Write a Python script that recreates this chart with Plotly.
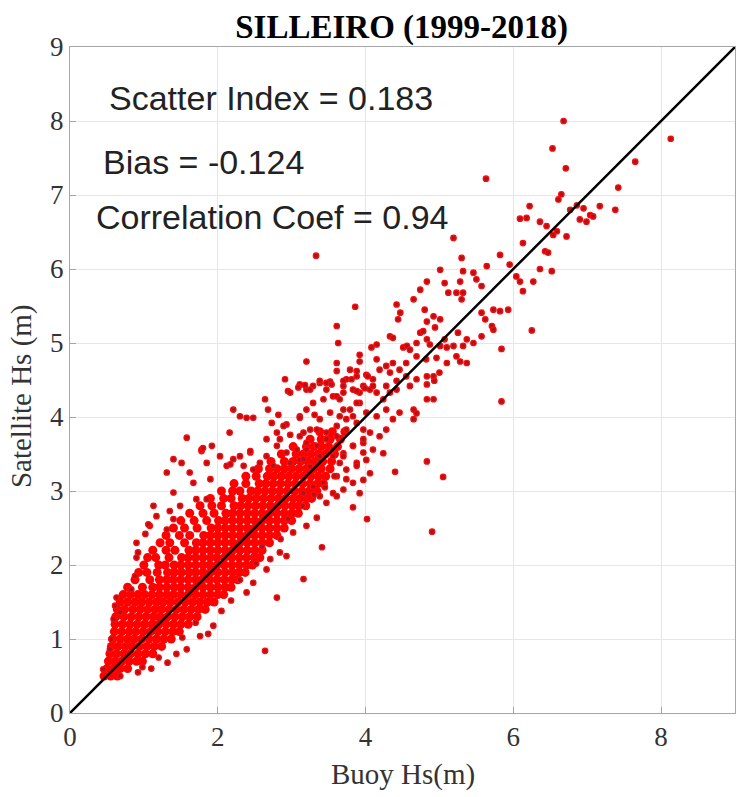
import plotly.graph_objects as go

# ---- dense core, read row by row (satellite Hs level -> buoy Hs values) ----
core_sat = [0.5, 0.6, 0.7, 0.8, 0.9, 1.0, 1.1, 1.2, 1.3, 1.4, 1.5, 1.6, 1.7, 1.8, 1.9,
            2.0, 2.1, 2.2, 2.3, 2.4, 2.5, 2.6, 2.7, 2.8, 2.9, 3.0, 3.1, 3.2, 3.3, 3.4,
            3.5, 3.6, 3.7, 3.8]
core_buoy = [
    [0.46, 0.55, 0.64],
    [0.50, 0.59, 0.68, 0.78],
    [0.52, 0.61, 0.70, 0.80, 0.90, 0.98],
    [0.54, 0.63, 0.73, 0.82, 0.92, 1.02, 1.12],
    [0.56, 0.65, 0.75, 0.84, 0.94, 1.04, 1.14, 1.24],
    [0.58, 0.68, 0.78, 0.87, 0.97, 1.07, 1.17, 1.27, 1.37],
    [0.60, 0.70, 0.80, 0.89, 0.99, 1.09, 1.19, 1.29, 1.39, 1.48],
    [0.61, 0.71, 0.81, 0.91, 1.01, 1.11, 1.20, 1.30, 1.40, 1.50, 1.60],
    [0.62, 0.73, 0.83, 0.93, 1.03, 1.13, 1.22, 1.32, 1.42, 1.52, 1.62, 1.72],
    [0.64, 0.74, 0.85, 0.95, 1.05, 1.15, 1.24, 1.34, 1.44, 1.54, 1.64, 1.74, 1.83],
    [0.68, 0.78, 0.88, 0.97, 1.07, 1.17, 1.26, 1.36, 1.46, 1.56, 1.66, 1.76, 1.86, 1.95],
    [0.72, 0.82, 0.92, 1.01, 1.11, 1.21, 1.31, 1.40, 1.50, 1.60, 1.70, 1.80, 1.90, 2.00, 2.08],
    [0.78, 0.98, 1.12, 1.21, 1.31, 1.41, 1.50, 1.60, 1.70, 1.80, 1.90, 2.00, 2.10, 2.18],
    [0.88, 1.08, 1.21, 1.31, 1.40, 1.50, 1.60, 1.70, 1.79, 1.89, 1.99, 2.09, 2.19, 2.27],
    [0.93, 1.04, 1.18, 1.32, 1.41, 1.51, 1.61, 1.70, 1.80, 1.90, 2.00, 2.10, 2.20, 2.29, 2.37],
    [1.00, 1.20, 1.29, 1.41, 1.50, 1.60, 1.70, 1.80, 1.89, 1.99, 2.09, 2.19, 2.29, 2.39, 2.47],
    [1.05, 1.16, 1.34, 1.51, 1.60, 1.70, 1.80, 1.90, 1.99, 2.09, 2.19, 2.29, 2.39, 2.49, 2.57],
    [1.12, 1.30, 1.42, 1.61, 1.70, 1.80, 1.90, 2.00, 2.10, 2.20, 2.30, 2.40, 2.50, 2.60],
    [1.22, 1.35, 1.55, 1.71, 1.80, 1.90, 2.00, 2.10, 2.20, 2.30, 2.40, 2.50, 2.60, 2.70],
    [1.30, 1.48, 1.62, 1.81, 1.90, 2.00, 2.10, 2.20, 2.30, 2.40, 2.50, 2.60, 2.70, 2.80],
    [1.40, 1.55, 1.72, 1.91, 2.00, 2.10, 2.20, 2.30, 2.40, 2.50, 2.60, 2.70, 2.80, 2.90],
    [1.50, 1.68, 1.85, 2.01, 2.10, 2.20, 2.30, 2.40, 2.50, 2.60, 2.70, 2.80, 2.90, 3.00],
    [1.62, 1.80, 1.95, 2.11, 2.20, 2.30, 2.40, 2.50, 2.60, 2.70, 2.80, 2.90, 3.00, 3.09],
    [1.76, 1.92, 2.05, 2.22, 2.31, 2.41, 2.51, 2.61, 2.71, 2.81, 2.91, 3.01, 3.10, 3.19],
    [1.90, 2.08, 2.18, 2.33, 2.42, 2.52, 2.62, 2.72, 2.82, 2.92, 3.02, 3.11, 3.20, 3.27],
    [2.05, 2.20, 2.30, 2.45, 2.54, 2.64, 2.74, 2.84, 2.94, 3.04, 3.14, 3.24, 3.34],
    [2.22, 2.38, 2.56, 2.65, 2.75, 2.85, 2.95, 3.05, 3.15, 3.25, 3.35, 3.43],
    [2.38, 2.52, 2.67, 2.76, 2.86, 2.96, 3.06, 3.16, 3.26, 3.36, 3.46],
    [2.55, 2.70, 2.80, 2.90, 3.00, 3.10, 3.20, 3.30, 3.40, 3.52],
    [2.72, 2.90, 3.02, 3.12, 3.22, 3.32, 3.42, 3.54],
    [2.86, 3.06, 3.16, 3.26, 3.36, 3.46, 3.58],
    [3.02, 3.20, 3.30, 3.40, 3.50, 3.62],
    [3.25, 3.40, 3.52, 3.66],
    [3.38, 3.55, 3.72],
]

# ---- individually readable points (buoy Hs, satellite Hs) ----
upper_pts = [
    (6.68, 8.00), (8.13, 7.76), (6.53, 7.63), (6.71, 7.36), (7.65, 7.45), (7.42, 7.10), (7.38, 6.80),
    (5.63, 7.22), (6.65, 7.01), (6.61, 6.94), (6.22, 6.85), (6.09, 6.68), (6.18, 6.69), (6.36, 6.64),
    (6.45, 6.58), (6.77, 6.80), (6.86, 6.86), (6.95, 6.82), (7.04, 6.73), (7.17, 6.85), (6.99, 6.64),
    (6.90, 6.67), (7.08, 6.71), (6.54, 6.46), (6.72, 6.44), (6.59, 6.51), (6.43, 6.24), (6.47, 6.22),
    (6.13, 6.35), (5.82, 6.19), (5.95, 6.06), (6.04, 5.90), (6.09, 5.83), (6.36, 6.00), (6.52, 5.97),
    (6.27, 5.83), (6.13, 5.70), (5.19, 6.42), (5.30, 6.15), (5.64, 6.04), (3.33, 6.18), (5.01, 5.99),
    (5.32, 5.97), (5.28, 5.83), (5.46, 5.95), (5.50, 5.86), (5.57, 5.77), (4.83, 5.83), (4.74, 5.72),
    (4.65, 5.59), (5.07, 5.81), (5.12, 5.68), (5.23, 5.68), (5.30, 5.59), (5.32, 5.68), (4.42, 5.52),
    (4.47, 5.41), (4.44, 5.32), (3.86, 5.49), (4.80, 5.45), (4.92, 5.36), (5.01, 5.32), (4.83, 5.29),
    (4.94, 5.21), (5.57, 5.41), (5.73, 5.45), (5.82, 5.43), (5.93, 5.45), (5.62, 5.32), (5.71, 5.23),
    (5.73, 5.18), (6.25, 5.17), (5.57, 5.09), (5.46, 5.00), (5.37, 5.05), (5.32, 4.96), (5.25, 5.14),
    (5.19, 4.96), (5.84, 4.92), (5.07, 5.05), (5.01, 4.96), (5.10, 4.94), (3.61, 5.23), (3.63, 5.00),
    (4.33, 5.09), (4.37, 5.07), (4.15, 4.98), (4.08, 4.94), (4.74, 5.14), (4.78, 5.16), (4.83, 5.05),
    (4.87, 4.98), (4.69, 5.00), (4.51, 4.94), (4.56, 4.96), (4.60, 4.91), (3.92, 4.84), (3.20, 4.75),
    (4.96, 4.80), (5.23, 4.82), (5.28, 4.75), (5.37, 4.73), (5.10, 4.73), (5.84, 4.21), (4.83, 4.44),
    (4.92, 4.55), (4.83, 4.55), (4.83, 4.24), (4.92, 4.24), (4.65, 4.10), (4.69, 4.05), (4.65, 3.97),
    (4.83, 3.40), (5.05, 3.19), (4.40, 3.26),
]
mid_pts = [
    (3.11, 4.44), (3.20, 4.37), (3.29, 4.42), (3.38, 4.46), (3.52, 4.48), (3.61, 4.62), (3.74, 4.51),
    (3.88, 4.55), (4.01, 4.57), (4.10, 4.51), (4.19, 4.64), (4.28, 4.69), (4.37, 4.73), (4.46, 4.64),
    (4.55, 4.55), (4.60, 4.42), (4.42, 4.37), (4.33, 4.33), (4.24, 4.24), (4.15, 4.33), (4.06, 4.37),
    (3.97, 4.42), (3.83, 4.37), (3.70, 4.33), (3.56, 4.28), (3.43, 4.24), (3.29, 4.19), (3.20, 4.10),
    (3.11, 4.01), (3.16, 3.79), (3.25, 3.83), (3.38, 3.97), (3.52, 4.06), (3.65, 4.01), (3.79, 4.10),
    (3.92, 4.19), (4.01, 4.06), (4.15, 4.01), (4.28, 4.10), (4.37, 3.97), (4.46, 4.06), (4.28, 3.83),
    (4.19, 3.74), (4.06, 3.79), (3.97, 3.83), (3.88, 3.92), (3.74, 3.83), (3.61, 3.74), (3.47, 3.70),
    (3.34, 3.61), (3.20, 3.56), (3.11, 3.42), (3.25, 3.33), (3.38, 3.42), (3.56, 3.47), (3.70, 3.51),
    (3.83, 3.61), (3.97, 3.65), (4.10, 3.56), (4.24, 3.51), (4.01, 3.42), (3.88, 3.38), (3.74, 3.29),
    (3.61, 3.20), (3.43, 3.11), (3.29, 3.06), (3.16, 2.97), (3.38, 2.93), (3.56, 2.97), (3.70, 3.02),
    (3.83, 3.11), (3.97, 3.15), (3.92, 2.97), (4.06, 3.24), (4.15, 4.78), (3.92, 4.75), (3.61, 4.73),
    (3.79, 4.64), (4.03, 4.55), (3.70, 4.49), (4.10, 4.42), (4.28, 4.42), (4.42, 4.49), (4.69, 4.51),
    (4.93, 4.49), (5.00, 4.60), (4.82, 4.78), (4.69, 4.82), (4.55, 4.73), (4.33, 4.60), (3.61, 4.28),
    (3.92, 4.33), (3.25, 4.37),
]
midleft_pts = [
    (3.88, 4.62), (2.91, 4.51), (3.38, 4.49), (3.54, 4.44), (3.81, 4.51), (2.95, 4.35), (3.09, 4.40),
    (3.18, 4.43), (3.47, 4.37), (3.88, 4.35), (3.99, 4.39), (2.64, 4.24), (2.68, 4.10), (2.21, 4.10),
    (2.30, 4.01), (2.39, 3.99), (2.48, 3.99), (2.82, 4.03), (3.11, 3.99), (3.31, 4.03), (2.73, 3.92),
    (2.93, 3.90), (2.16, 3.79), (1.92, 3.61), (1.78, 3.54), (2.98, 3.76), (2.84, 3.70), (3.11, 3.74),
    (3.34, 3.83), (3.47, 3.79), (3.61, 3.88), (3.74, 3.97), (3.83, 4.01), (3.70, 4.10), (3.88, 4.19),
    (3.65, 4.24), (2.03, 3.47), (2.21, 3.43), (2.44, 3.52), (2.66, 3.47), (2.80, 3.61), (2.93, 3.52),
    (3.07, 3.56), (3.20, 3.65), (3.34, 3.61), (3.47, 3.70), (3.56, 3.56), (3.70, 3.47), (3.83, 3.61),
    (3.97, 3.70), (3.97, 3.52), (1.85, 3.38), (2.12, 3.34), (2.35, 3.34), (2.57, 3.38), (2.75, 3.34),
    (2.98, 3.38), (3.16, 3.43), (3.38, 3.47), (3.65, 3.38), (3.88, 3.34),
]
left_pts = [
    (0.90, 2.30), (0.90, 2.10), (0.88, 1.85), (1.13, 2.80), (1.31, 3.25), (1.40, 3.43), (1.58, 3.72),
    (1.78, 3.56), (2.44, 3.54), (1.51, 3.38), (1.62, 3.25), (1.40, 2.98), (1.17, 2.66), (1.08, 2.53),
    (1.02, 2.42), (1.31, 2.48), (1.40, 2.62), (1.49, 2.80), (1.71, 2.89), (1.85, 2.89), (1.90, 3.16),
    (1.67, 3.11), (2.17, 3.36), (2.30, 3.47), (2.48, 3.29), (2.66, 3.70), (2.80, 3.79), (2.89, 3.88),
    (1.80, 3.58), (1.35, 2.73), (1.06, 2.55), (0.92, 2.17), (0.83, 1.67), (0.63, 1.56), (0.61, 1.45),
    (0.68, 1.36), (0.59, 1.27), (0.56, 1.00), (0.54, 0.86), (0.45, 0.59), (0.68, 0.50), (0.92, 0.55),
    (2.98, 4.33), (3.47, 4.46), (3.70, 4.42),
]
right_pts = [
    (2.64, 0.84), (2.80, 1.56), (3.16, 1.81), (3.41, 2.24), (3.83, 2.78), (1.44, 0.80), (1.58, 0.86),
    (1.76, 1.04), (1.87, 1.07), (1.94, 1.18), (2.39, 1.63), (2.48, 1.76), (2.66, 1.94), (2.93, 2.12),
    (3.02, 2.44), (3.20, 2.53), (3.34, 2.64), (3.47, 2.84), (3.61, 2.93), (3.74, 3.16), (2.71, 2.08),
    (2.84, 2.17), (1.20, 0.75), (4.90, 2.45), (4.02, 2.62), (1.52, 1.02), (1.70, 1.22), (2.05, 1.38),
    (2.18, 1.52), (2.30, 1.80), (2.52, 2.02), (2.60, 2.25), (2.85, 2.35), (2.95, 2.62), (3.15, 2.80),
    (3.30, 2.95), (3.45, 3.05), (3.58, 3.20), (1.32, 0.68), (1.10, 0.60), (0.98, 0.62),
]

# 1:1 reference line
ref_line = [0, 9]
x_ticks = [0, 2, 4, 6, 8]
y_ticks = [0, 1, 2, 3, 4, 5, 6, 7, 8, 9]

core_x, core_y = [], []
for s, row in zip(core_sat, core_buoy):
    core_x += row
    core_y += [s] * len(row)

pts = upper_pts + mid_pts + midleft_pts + left_pts + right_pts
px = [p[0] for p in pts]
py = [p[1] for p in pts]

fig = go.Figure()
fig.add_trace(go.Scatter(x=core_x, y=core_y, mode="markers",
                         marker=dict(color="#ff0000", size=9, line=dict(width=0)),
                         showlegend=False, hoverinfo="skip"))
fig.add_trace(go.Scatter(x=px, y=py, mode="markers",
                         marker=dict(color="#b0141a", size=5.5, line=dict(color="#ff0a0a", width=1.2)),
                         showlegend=False))
fig.add_trace(go.Scatter(x=ref_line, y=ref_line, mode="lines",
                         line=dict(color="black", width=2.5), showlegend=False))

serif = "Liberation Serif, Times New Roman, serif"
sans = "Liberation Sans, Arial, Helvetica, sans-serif"
axis_common = dict(range=[0, 9], showgrid=True, gridcolor="#e6e6e6", gridwidth=1,
                   showline=True, mirror=True, linecolor="#a6a6a6", linewidth=1,
                   ticks="inside", ticklen=6, tickcolor="#a6a6a6", zeroline=False,
                   tickfont=dict(family=serif, size=27, color="#333333"))

fig.update_layout(
    width=737, height=797,
    margin=dict(l=70, r=2, t=47, b=84),
    paper_bgcolor="white", plot_bgcolor="white",
    xaxis=dict(tickvals=x_ticks, **axis_common),
    yaxis=dict(tickvals=y_ticks, **axis_common),
    title=dict(text="<b>SILLEIRO (1999-2018)</b>", x=0.545, xanchor="center",
               y=1 - 26 / 797, yanchor="middle", yref="container",
               font=dict(family=serif, size=33, color="black")),
    showlegend=False,
)

notes = [("Scatter Index = 0.183", 0.50, 8.31),
         ("Bias = -0.124", 0.42, 7.44),
         ("Correlation Coef = 0.94", 0.325, 6.70)]
for txt, ax_, ay_ in notes:
    fig.add_annotation(x=ax_, y=ay_, xref="x", yref="y", text=txt, showarrow=False,
                       xanchor="left", yanchor="middle",
                       font=dict(family=sans, size=34, color="#222222"))

fig.add_annotation(x=0.5, y=-0.093, xref="paper", yref="paper", text="Buoy Hs(m)",
                   showarrow=False, xanchor="center", yanchor="middle",
                   font=dict(family=serif, size=29, color="#333333"))
fig.add_annotation(x=-0.072, y=0.476, xref="paper", yref="paper", text="Satellite Hs (m)",
                   showarrow=False, xanchor="center", yanchor="middle", textangle=-90,
                   font=dict(family=serif, size=29, color="#333333"))

fig.write_html("out.html")
